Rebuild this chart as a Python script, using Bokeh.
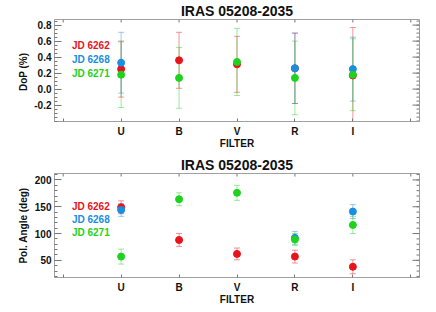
import math
from bokeh.plotting import figure
from bokeh.layouts import column
from bokeh.models import (ColumnDataSource, Whisker, TeeHead, FixedTicker,
                          Label, Range1d, PrintfTickFormatter)
from bokeh.embed import file_html
from bokeh.resources import INLINE

filters = ["U", "B", "V", "R", "I"]
filter_pos = [1, 2, 3, 4, 5]
chart_title = "IRAS 05208-2035"
dates = ["JD 6262", "JD 6268", "JD 6271"]
colors = ["#e8141c", "#1a8ee0", "#1ed21e"]

dop_6262 = [0.25, 0.36, 0.31, 0.26, 0.17]
dop_6262_err = [0.35, 0.35, 0.35, 0.44, 0.60]
dop_6268 = [0.33, None, None, 0.26, 0.25]
dop_6268_err = [0.38, None, None, 0.44, 0.40]
dop_6271 = [0.18, 0.14, 0.34, 0.14, 0.18]
dop_6271_err = [0.41, 0.38, 0.42, 0.46, 0.45]

pa_6262 = [149, 88, 62, 57, 38]
pa_6262_err = [12, 12, 11, 12, 13]
pa_6268 = [144, None, None, 92, 141]
pa_6268_err = [12, None, None, 12, 13]
pa_6271 = [57, 164, 176, 89, 116]
pa_6271_err = [14, 12, 14, 11, 16]

x_ticks = [0, 1, 2, 3, 4, 5, 6]
dop_ticks = [-0.2, 0.0, 0.2, 0.4, 0.6, 0.8]
dop_minor = [round(-0.4 + 0.05 * i, 2) for i in range(26)]
pa_ticks = [50, 100, 150, 200]
pa_minor = list(range(20, 211, 10))

FONT = "Liberation Sans"
FRAME = "#a0a0a0"
TICK = "#777777"


def style_axis(ax):
    ax.axis_line_color = FRAME
    ax.major_tick_line_color = TICK
    ax.minor_tick_line_color = TICK
    ax.major_tick_out = 0
    ax.minor_tick_out = 0
    ax.major_tick_in = 7
    ax.minor_tick_in = 3
    ax.major_label_text_font = FONT
    ax.major_label_text_font_style = "bold"
    ax.major_label_text_font_size = "10px"
    ax.major_label_text_color = "#111111"
    ax.axis_label_text_font = FONT
    ax.axis_label_text_font_style = "bold"
    ax.axis_label_text_font_size = "10px"
    ax.axis_label_text_color = "#111111"


def panel(series, errs, yr, yticks, yminor, ylabel, fmt, legend_fr, h, mbt, mbb, ylab_standoff):
    p = figure(width=428, height=h, x_range=Range1d(-0.15, 6.15), y_range=Range1d(*yr),
               output_backend="svg", toolbar_location=None,
               min_border_left=54, min_border_right=9, min_border_top=mbt, min_border_bottom=mbb)
    p.title.text = chart_title
    p.title.align = "center"
    p.title.text_font = FONT
    p.title.text_font_style = "bold"
    p.title.text_font_size = "14px"
    p.title.text_color = "#111111"
    p.title.standoff = 1
    p.grid.visible = False
    p.outline_line_color = FRAME

    xa = p.xaxis[0]
    xa.ticker = FixedTicker(ticks=x_ticks, minor_ticks=[])
    xa.major_label_overrides = {0: "", 1: "U", 2: "B", 3: "V", 4: "R", 5: "I", 6: ""}
    xa.axis_label = "FILTER"
    style_axis(xa)
    xa.major_tick_in = 3
    xa.major_label_standoff = 4
    xa.axis_label_standoff = -2

    ya = p.yaxis[0]
    ya.ticker = FixedTicker(ticks=yticks, minor_ticks=yminor)
    ya.formatter = PrintfTickFormatter(format=fmt)
    ya.axis_label = ylabel
    style_axis(ya)
    ya.major_label_standoff = 3
    ya.axis_label_standoff = ylab_standoff

    # mirrored inward ticks on the top and right edges
    p.ray(x=x_ticks, y=[yr[1]] * len(x_ticks), length=3, length_units="screen",
          angle=-math.pi / 2, line_color=TICK, line_width=1)
    p.ray(x=[6.15] * len(yticks), y=yticks, length=7, length_units="screen",
          angle=math.pi, line_color=TICK, line_width=1)
    p.ray(x=[6.15] * len(yminor), y=yminor, length=3, length_units="screen",
          angle=math.pi, line_color=TICK, line_width=1)

    for vals, ers, c in zip(series, errs, colors):
        xs = [x for x, v in zip(filter_pos, vals) if v is not None]
        ys = [v for v in vals if v is not None]
        es = [e for e in ers if e is not None]
        src = ColumnDataSource(dict(x=xs, y=ys,
                                    lo=[y - e for y, e in zip(ys, es)],
                                    hi=[y + e for y, e in zip(ys, es)]))
        w = Whisker(base="x", upper="hi", lower="lo", source=src, dimension="height",
                    line_color=c, line_alpha=0.45, line_width=1,
                    upper_head=TeeHead(size=6, line_color=c, line_alpha=0.45),
                    lower_head=TeeHead(size=6, line_color=c, line_alpha=0.45))
        w.level = "underlay"
        p.add_layout(w)

    for vals, c in zip(series, colors):
        xs = [x for x, v in zip(filter_pos, vals) if v is not None]
        ys = [v for v in vals if v is not None]
        p.scatter(xs, ys, size=7, color=c, line_color=c)

    span = yr[1] - yr[0]
    for d, c, f in zip(dates, colors, legend_fr):
        p.add_layout(Label(x=0.15, y=yr[1] - f * span, text=d, text_color=c,
                           text_font=FONT, text_font_style="bold", text_font_size="10px",
                           text_baseline="middle", text_align="left"))
    return p


p1 = panel([dop_6262, dop_6268, dop_6271], [dop_6262_err, dop_6268_err, dop_6271_err],
           (-0.405, 0.87), dop_ticks, dop_minor, "DoP  (%)", "%.1f",
           [0.25, 0.39, 0.53], 151, 18, 30, 2)
p2 = panel([pa_6262, pa_6268, pa_6271], [pa_6262_err, pa_6268_err, pa_6271_err],
           (18, 212), pa_ticks, pa_minor, "Pol. Angle (deg)", "%d",
           [0.315, 0.44, 0.565], 156, 22, 30, 3)

layout = column(p1, p2, spacing=0)
open("out.html", "w").write(file_html(layout, INLINE))
